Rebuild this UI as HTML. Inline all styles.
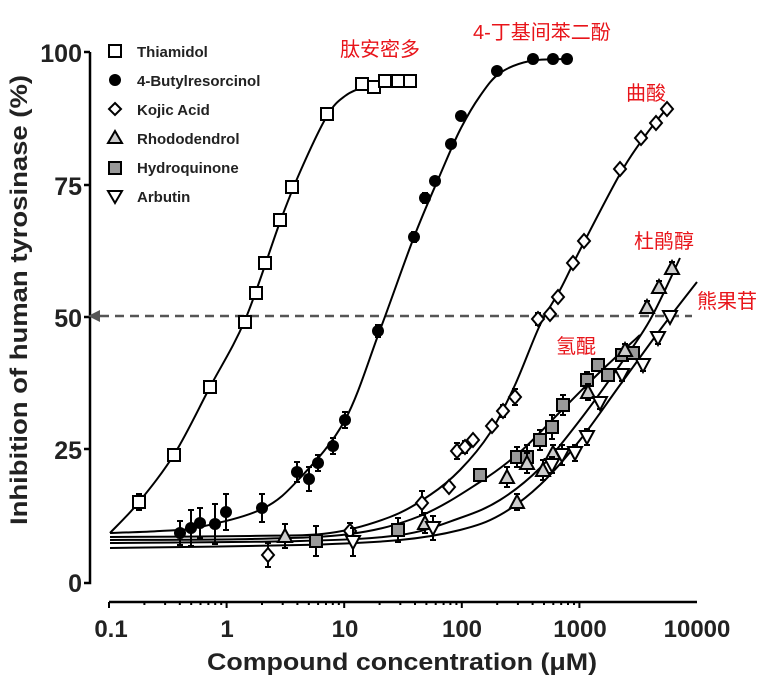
<!DOCTYPE html>
<html><head><meta charset="utf-8"><style>
html,body{margin:0;padding:0;background:#fff}
svg{display:block;font-family:"Liberation Sans",Arial,sans-serif}
.cn{font-family:"Liberation Sans","Noto Sans CJK SC",sans-serif;fill:#e8141a;font-size:20px}
</style></head><body>
<svg id="s" width="780" height="687" viewBox="0 0 780 687" xmlns="http://www.w3.org/2000/svg">
<g stroke="#000" stroke-width="2.5" fill="none">
<path d="M90 52 V583 H84 M84 52 H90 M84 185 H90 M84 317 H90 M84 449 H90"/>
<path d="M109 602 H697"/>
</g>
<g id="xt" stroke="#000" stroke-width="2"></g>
<g font-weight="bold" font-size="25" text-anchor="end" fill="#222">
<text x="82" y="62">100</text><text x="82" y="195">75</text><text x="82" y="327">50</text><text x="82" y="459">25</text><text x="82" y="592">0</text>
</g>
<g font-weight="bold" font-size="24" text-anchor="middle" fill="#222">
<text x="111" y="637">0.1</text><text x="227" y="637">1</text><text x="345" y="637">10</text><text x="462" y="637">100</text><text x="580" y="637">1000</text><text x="697" y="637">10000</text>
<text x="402" y="670" textLength="390" lengthAdjust="spacingAndGlyphs">Compound concentration (μM)</text>
<text transform="translate(27 300) rotate(-90)" textLength="450" lengthAdjust="spacingAndGlyphs">Inhibition of human tyrosinase (%)</text>
</g>
<line x1="100" y1="316" x2="692" y2="316" stroke="#555" stroke-width="2.5" stroke-dasharray="9 6"/>
<polygon points="88,316 100,310 100,322" fill="#555"/>
<g id="cv" stroke="#000" stroke-width="2" fill="none"></g>
<g id="pts"></g>
<g font-size="15" font-weight="bold" fill="#222">
<rect x="109" y="45" width="12" height="12" fill="#fff" stroke="#000" stroke-width="2"/><text x="137" y="57">Thiamidol</text>
<circle cx="115" cy="80" r="6" fill="#000"/><text x="137" y="86">4-Butylresorcinol</text>
<polygon points="115,103 121,109 115,115 109,109" fill="#fff" stroke="#000" stroke-width="2"/><text x="137" y="115">Kojic Acid</text>
<polygon points="115,131 122,143 108,143" fill="#ccc" stroke="#000" stroke-width="2"/><text x="137" y="144">Rhododendrol</text>
<rect x="109" y="162" width="12" height="12" fill="#999" stroke="#000" stroke-width="2"/><text x="137" y="173">Hydroquinone</text>
<polygon points="108,191 122,191 115,203" fill="#fff" stroke="#000" stroke-width="2"/><text x="137" y="202">Arbutin</text>
</g>
<text class="cn" x="340" y="56">肽安密多</text>
<text class="cn" x="473" y="39">4-丁基间苯二酚</text>
<text class="cn" x="626" y="100">曲酸</text>
<text class="cn" x="634" y="248">杜鹃醇</text>
<text class="cn" x="697" y="308">熊果苷</text>
<text class="cn" x="556" y="353">氢醌</text>
</svg>
<script>
var NS="http://www.w3.org/2000/svg";
function X(c){return 109+117.6*Math.log10(c/0.1)}
function el(t,a,p){var e=document.createElementNS(NS,t);for(var k in a)e.setAttribute(k,a[k]);document.getElementById(p).appendChild(e);return e}
var d="";
for(var k=0;k<4;k++)for(var m=1;m<=10;m++){var x=X(0.1*Math.pow(10,k)*m);if(m==1||m==10){d+="M"+x+" 602 V608 ";}else d+="M"+x+" 602 V605 ";}
el("path",{d:d},"xt");
function spline(P){var p="M"+P[0][0]+" "+P[0][1];for(var i=0;i<P.length-1;i++){var p0=P[i-1]||P[i],p1=P[i],p2=P[i+1],p3=P[i+2]||P[i+1];
var c1x=p1[0]+(p2[0]-p0[0])/6,c1y=p1[1]+(p2[1]-p0[1])/6,c2x=p2[0]-(p3[0]-p1[0])/6,c2y=p2[1]-(p3[1]-p1[1])/6;
p+="C"+c1x.toFixed(1)+" "+c1y.toFixed(1)+" "+c2x.toFixed(1)+" "+c2y.toFixed(1)+" "+p2[0]+" "+p2[1];}el("path",{d:p},"cv");}
spline([[110,533],[139,502],[175,453],[210,387],[245,320],[280,222],[300,172],[327,116],[345,96],[365,87],[385,84],[412,83]]);
spline([[110,533],[160,531],[200,527],[262,509],[300,478],[345,420],[380,330],[414,237],[440,175],[460,130],[480,96],[500,73],[530,61],[567,59]]);
spline([[110,537],[250,536],[330,533],[390,517],[430,495],[460,470],[490,433],[515,385],[540,325],[560,290],[580,250],[620,174],[645,136],[667,108]]);
spline([[110,543],[300,541],[400,535],[460,518],[500,500],[540,468],[580,420],[620,365],[650,320],[680,258]]);
spline([[110,540],[250,539],[350,534],[420,516],[480,482],[520,452],[560,412],[600,372],[640,335]]);
spline([[110,548],[300,545],[400,540],[460,530],[500,515],[540,485],[580,440],[620,385],[660,330],[697,282]]);
function eb(x,y,e){if(e)el("path",{d:"M"+x+" "+(y-e)+"V"+(y+e)+"M"+(x-3)+" "+(y-e)+"h6M"+(x-3)+" "+(y+e)+"h6",stroke:"#000","stroke-width":2},"pts");}
function sq(x,y,f,e){eb(x,y,e);el("rect",{x:x-6,y:y-6,width:12,height:12,fill:f,stroke:"#000","stroke-width":2},"pts");}
function ci(x,y,e){eb(x,y,e);el("circle",{cx:x,cy:y,r:6,fill:"#000"},"pts");}
function di(x,y,e){eb(x,y,e);el("polygon",{points:[x,y-7,x+6,y,x,y+7,x-6,y].join(","),fill:"#fff",stroke:"#000","stroke-width":2},"pts");}
function tu(x,y,e){eb(x,y,e);el("polygon",{points:[x,y-7,x+7,y+6,x-7,y+6].join(","),fill:"#ccc",stroke:"#000","stroke-width":2},"pts");}
function td(x,y,e){eb(x,y,e);el("polygon",{points:[x-7,y-6,x+7,y-6,x,y+7].join(","),fill:"#fff",stroke:"#000","stroke-width":2},"pts");}
[[139,502,8],[174,455,6],[210,387,6],[245,322,5],[256,293,4],[265,263,5],[280,220,5],[292,187,4],[327,114,0],[362,84,0],[374,87,0],[385,81,0],[398,81,0],[410,81,0]].forEach(function(p){sq(p[0],p[1],"#fff",p[2])});
[[180,533,12],[191,528,18],[200,523,15],[215,524,20],[226,512,18],[262,508,14],[297,472,10],[309,479,12],[318,463,8],[333,446,8],[345,420,8],[378,331,6],[414,237,5],[425,198,5],[435,181,4],[451,144,4],[461,116,0],[497,71,0],[533,59,0],[553,59,0],[567,59,0]].forEach(function(p){ci(p[0],p[1],p[2])});
[[268,555,12],[350,531,8],[422,503,12],[449,487,0],[457,451,8],[465,447,6],[473,440,0],[492,426,0],[503,411,6],[515,397,8],[538,319,6],[550,314,0],[558,297,0],[573,263,0],[584,241,0],[620,169,0],[641,138,0],[656,123,0],[667,109,0]].forEach(function(p){di(p[0],p[1],p[2])});
[[316,541,15],[398,530,12],[480,475,0],[517,457,10],[527,457,12],[540,440,10],[552,427,12],[563,405,10],[587,380,8],[598,365,6],[608,375,6],[622,355,6],[633,353,6]].forEach(function(p){sq(p[0],p[1],"#999",p[2])});
[[285,536,12],[425,523,10],[517,502,8],[507,477,10],[527,463,10],[543,470,10],[553,453,8],[588,392,8],[625,350,6],[647,307,6],[659,287,6],[672,268,6]].forEach(function(p){tu(p[0],p[1],p[2])});
[[353,542,14],[433,528,12],[552,465,8],[562,455,10],[575,453,8],[587,437,8],[600,403,6],[622,375,6],[643,365,6],[658,338,6],[670,317,0]].forEach(function(p){td(p[0],p[1],p[2])});
</script>
</body></html>
